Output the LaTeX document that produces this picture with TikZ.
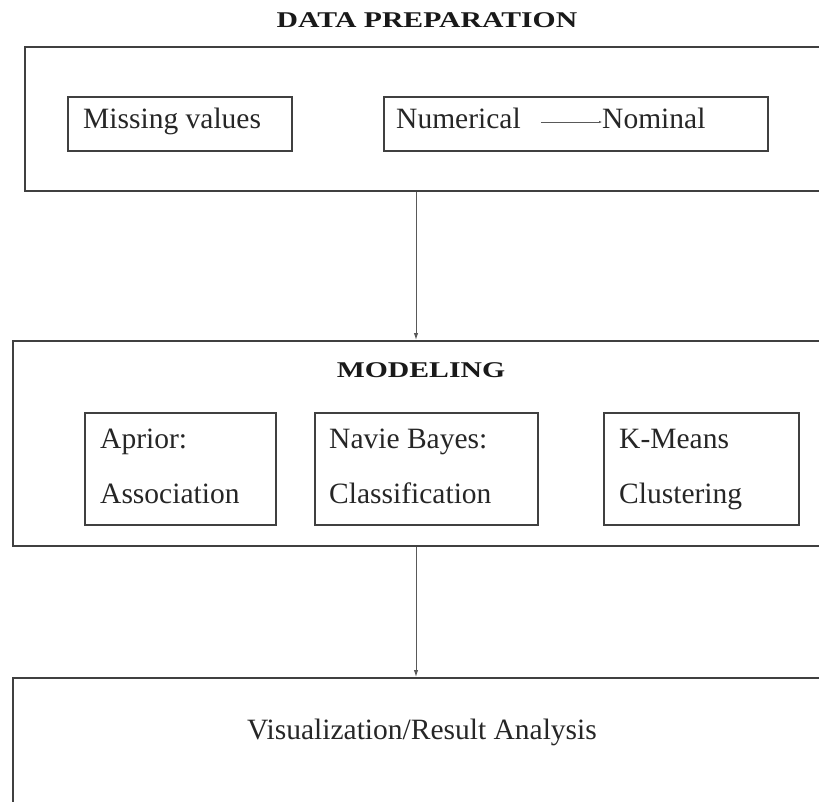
\documentclass[tikz,border=0pt]{standalone}
\usepackage{fontspec}
\setmainfont{Liberation Serif}
\newfontfamily\headfont[FakeStretch=1.32]{Liberation Serif}
\usepackage{tikz}
\usetikzlibrary{positioning,arrows.meta}

\tikzset{
	stage/.style={draw=black!75, line width=2pt, anchor=north west, inner sep=0pt},
	item/.style={draw=black!75, line width=1.6pt, anchor=north west, inner sep=0pt},
	label/.style={font=\fontsize{29.5}{55}\selectfont, text=black!85, inner sep=0pt, anchor=base west, align=left},
	title/.style={font=\fontsize{22.5}{27}\headfont\bfseries, text=black!90, inner sep=0pt, anchor=base},
	flow/.style={draw=black!65, line width=1pt, -{Latex[length=7pt,width=4.5pt]}}
}

\begin{document}
\begin{tikzpicture}[x=1pt,y=-1pt]
\useasboundingbox (0,0) rectangle (819,801);
% stages
\node[title] (preptitle) at (427,27) {DATA PREPARATION};
	\node[stage, minimum width=820pt, minimum height=144pt] (prep) at (24,46) {};
	\node[stage, minimum width=830pt, minimum height=205pt] (model) at (12,340) {};
	\node[stage, minimum width=830pt, minimum height=160pt] (result) at (12,677) {};

% data preparation
	\node[item, minimum width=224pt, minimum height=54pt] (missbox) at (67,96) {};
	\node[label] (miss) at (83,128) {Missing values};
	\node[item, minimum width=384pt, minimum height=54pt] (numbox) at (383,96) {};
	\node[label] (num) at (396,128) {Numerical};
	\node[label] (nom) at (602,128) {Nominal};
	\draw[flow, line width=0.8pt, -{Latex[length=3pt,width=2.5pt]}] ([xshift=20pt,yshift=6pt]num.base east) -- ([yshift=6pt]nom.base west);

% modeling
\node[title] (modeltitle) at (421,377) {MODELING};
	\node[item, minimum width=191pt, minimum height=112pt] (apr) at (84,412) {};
	\node[label] (aprtext) at (100,503) {Aprior:\\Association};
	\node[item, minimum width=223pt, minimum height=112pt] (nb) at (314,412) {};
	\node[label] (nbtext) at (329,503) {Navie Bayes:\\Classification};
	\node[item, minimum width=195pt, minimum height=112pt] (km) at (603,412) {};
	\node[label] (kmtext) at (619,503) {K-Means\\Clustering};

% result
	\node[label, anchor=base] (vis) at (422,739) {Visualization/Result Analysis};

% flow between stages
\coordinate (axis) at (416,0);
	\draw[flow] (prep.south -| axis) -- (model.north -| axis);
	\draw[flow] (model.south -| axis) -- (result.north -| axis);
\end{tikzpicture}
\end{document}
